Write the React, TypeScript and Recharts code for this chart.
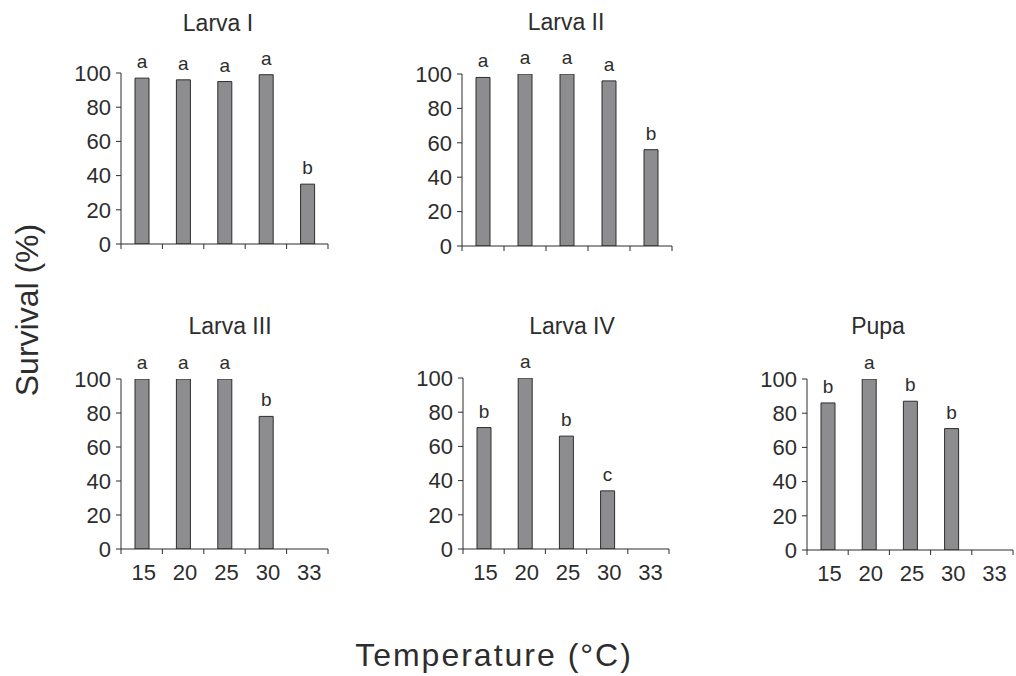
import { BarChart, Bar, XAxis, YAxis, LabelList } from 'recharts';

// temperature classes (°C) shared by every panel
const temperatures = ['15', '20', '25', '30', '33'];

// survival (%) per stage
const larvaI = [97, 96, 95, 99, 35];
const larvaII = [98, 100, 100, 96, 56];
const larvaIII = [100, 100, 100, 78, null];
const larvaIV = [71, 100, 66, 34, null];
const pupa = [86, 100, 87, 71, null];

// significance letters above the bars
const larvaILetters = ['a', 'a', 'a', 'a', 'b'];
const larvaIILetters = ['a', 'a', 'a', 'a', 'b'];
const larvaIIILetters = ['a', 'a', 'a', 'b', ''];
const larvaIVLetters = ['b', 'a', 'b', 'c', ''];
const pupaLetters = ['b', 'a', 'b', 'b', ''];

const yTicks = [0, 20, 40, 60, 80, 100];

const FONT = '"Liberation Sans", Arial, Helvetica, sans-serif';
const INK = '#2d2d2d';
const BAR_FILL = '#8d8d8f';

const ML = 60;
const MT = 45;
const MR = 3;
const XH = 45;

type PanelProps = {
  title: string;
  values: (number | null)[];
  letters: string[];
  plotLeft: number;
  plotTop: number;
  plotWidth: number;
  plotHeight: number;
  titleX: number;
  titleTop: number;
  showTickLabels: boolean;
};

const Panel = ({ title, values, letters, plotLeft, plotTop, plotWidth, plotHeight, titleX, titleTop, showTickLabels }: PanelProps) => {
  const data = temperatures.map((t, i) => ({ temp: t, survival: values[i], letter: letters[i] }));
  const step = plotWidth / temperatures.length;

  // ticks sit on the category boundaries, labels in the middle
  const renderTick = (props: any) => {
    const { x, y, index } = props;
    const left = x - step / 2;
    return (
      <g>
        <line x1={left} y1={y} x2={left} y2={y + 5} stroke={INK} />
        {index === temperatures.length - 1 && (
          <line x1={x + step / 2} y1={y} x2={x + step / 2} y2={y + 5} stroke={INK} />
        )}
        {showTickLabels && (
          <text x={x + 2} y={y + 31} textAnchor="middle" fill={INK} fontSize={22} fontFamily={FONT}>
            {props.payload.value}
          </text>
        )}
      </g>
    );
  };

  return (
    <>
      <div
        style={{
          position: 'absolute',
          left: titleX - 100,
          top: titleTop,
          width: 200,
          textAlign: 'center',
          fontFamily: FONT,
          fontSize: 23,
          lineHeight: '23px',
          color: INK,
        }}
      >
        {title}
      </div>
      <div style={{ position: 'absolute', left: plotLeft - ML, top: plotTop - MT }}>
        <BarChart
          width={ML + plotWidth + MR}
          height={MT + plotHeight + XH}
          data={data}
          margin={{ top: MT, right: MR, bottom: 0, left: 0 }}
        >
          <XAxis
            dataKey="temp"
            height={XH}
            interval={0}
            tickSize={0}
            tickMargin={0}
            tickLine={false}
            axisLine={{ stroke: INK }}
            tick={renderTick}
          />
          <YAxis
            domain={[0, 100]}
            ticks={yTicks}
            interval={0}
            width={ML}
            tickSize={5}
            tickMargin={5}
            allowDataOverflow
            axisLine={{ stroke: INK }}
            tickLine={{ stroke: INK }}
            tick={{ fill: INK, fontSize: 22, fontFamily: FONT }}
          />
          <Bar dataKey="survival" fill={BAR_FILL} stroke={INK} strokeWidth={1} barSize={14} isAnimationActive={false}>
            <LabelList dataKey="letter" position="top" offset={10} fill={INK} fontSize={19} fontFamily={FONT} />
          </Bar>
        </BarChart>
      </div>
    </>
  );
};

export default function App() {
  return (
    <div
      style={{
        position: 'absolute',
        left: 0,
        top: 0,
        width: 1016,
        height: 676,
        overflow: 'hidden',
        background: '#fff',
      }}
    >
      <Panel title="Larva I" values={larvaI} letters={larvaILetters} plotLeft={121} plotTop={73} plotWidth={207} plotHeight={171} titleX={218} titleTop={12} showTickLabels={false} />
      <Panel title="Larva II" values={larvaII} letters={larvaIILetters} plotLeft={462} plotTop={74} plotWidth={210} plotHeight={172} titleX={566} titleTop={11} showTickLabels={false} />
      <Panel title="Larva III" values={larvaIII} letters={larvaIIILetters} plotLeft={121} plotTop={379} plotWidth={207} plotHeight={170} titleX={230} titleTop={315} showTickLabels />
      <Panel title="Larva IV" values={larvaIV} letters={larvaIVLetters} plotLeft={463} plotTop={378} plotWidth={206} plotHeight={171} titleX={572} titleTop={315} showTickLabels />
      <Panel title="Pupa" values={pupa} letters={pupaLetters} plotLeft={807} plotTop={379} plotWidth={206} plotHeight={171} titleX={878} titleTop={315} showTickLabels />

      <div
        style={{
          position: 'absolute',
          left: 27 - 120,
          top: 310 - 18,
          width: 240,
          height: 36,
          lineHeight: '36px',
          textAlign: 'center',
          transform: 'rotate(-90deg)',
          fontFamily: FONT,
          fontSize: 32,
          color: INK,
        }}
      >
        Survival (%)
      </div>
      <div
        style={{
          position: 'absolute',
          left: 494 - 200,
          top: 637,
          width: 400,
          lineHeight: '36px',
          textAlign: 'center',
          fontFamily: FONT,
          fontSize: 32,
          letterSpacing: 2,
          color: INK,
        }}
      >
        Temperature (°C)
      </div>
    </div>
  );
}
